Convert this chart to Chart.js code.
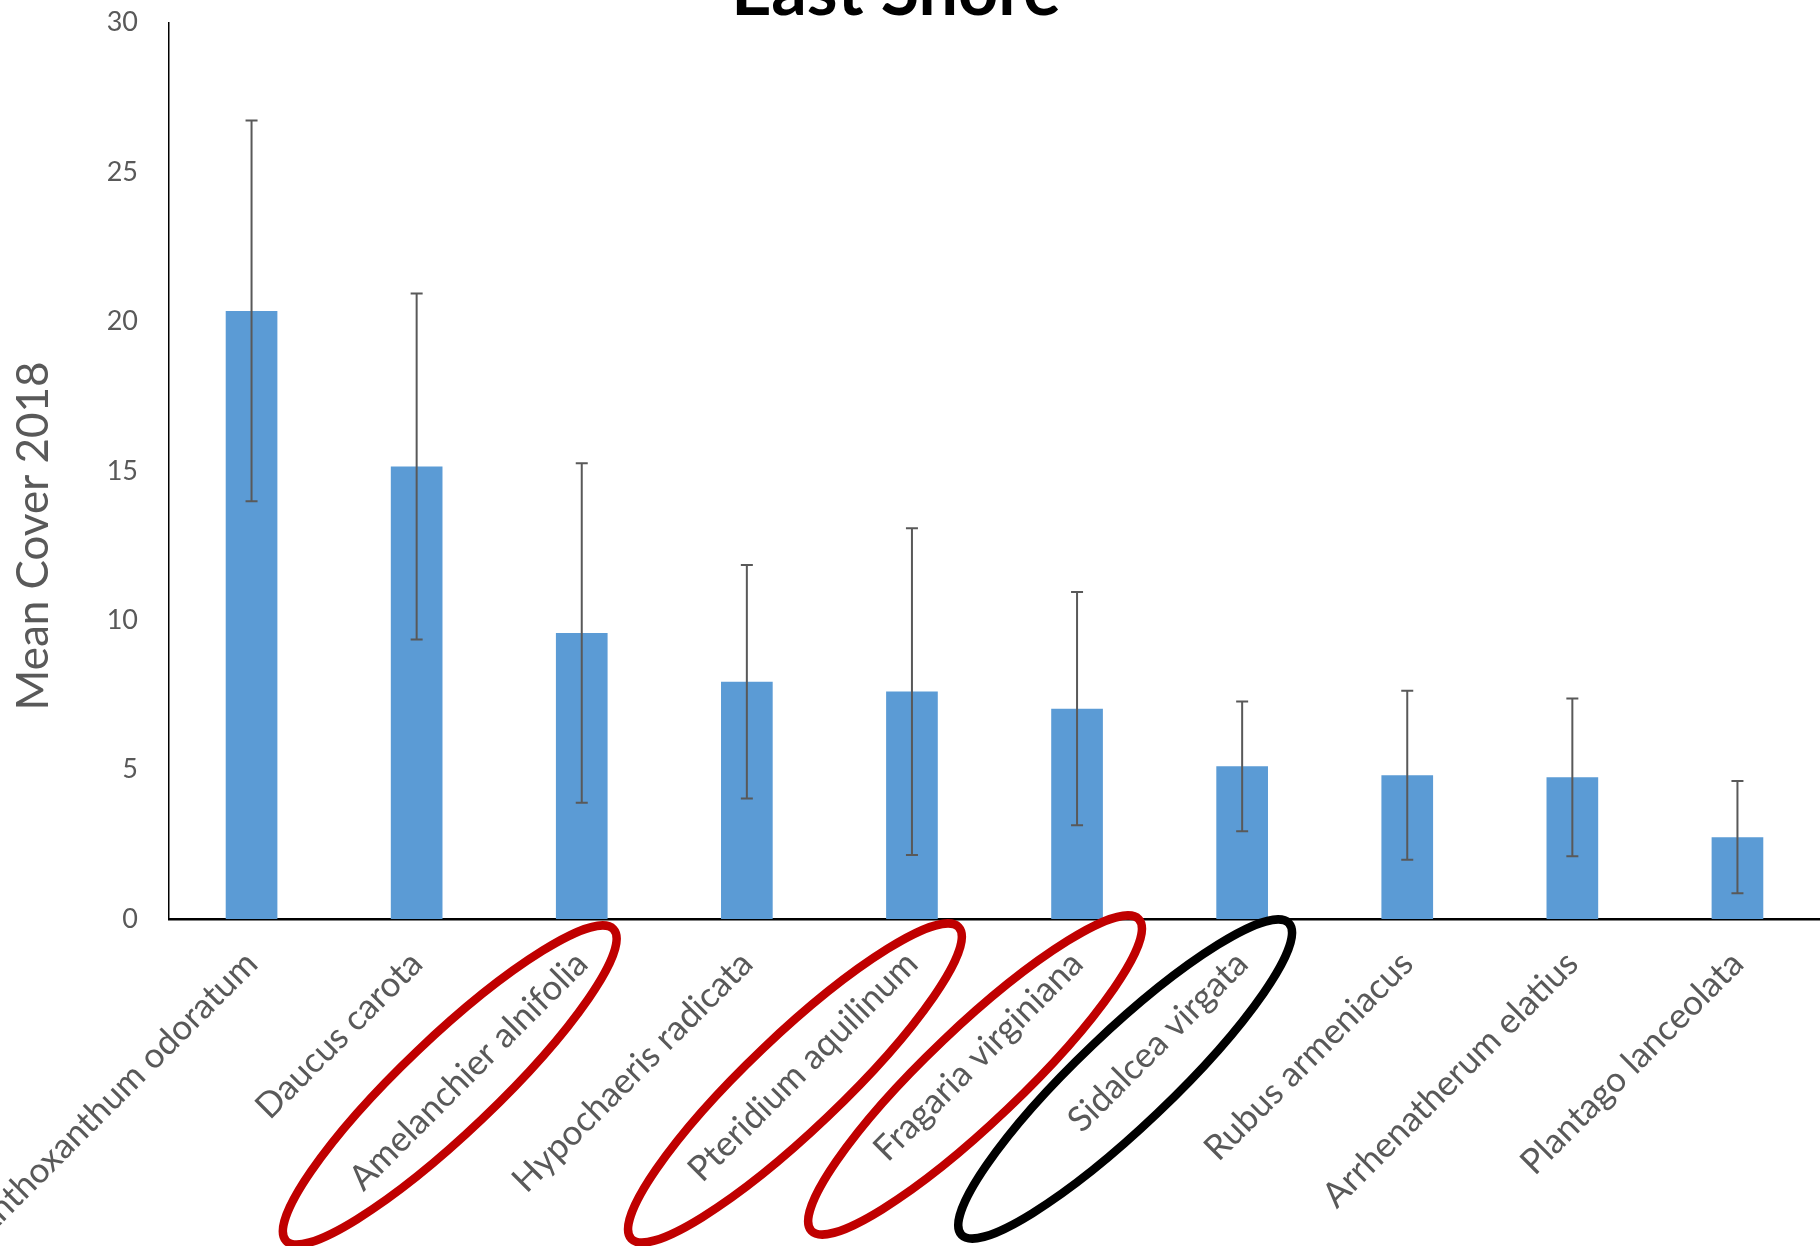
<!DOCTYPE html>
<html>
<head>
<meta charset="utf-8">
<title>East Shore</title>
<script src="https://cdn.jsdelivr.net/npm/chart.js@4.4.1/dist/chart.umd.min.js"></script>
<style>
    html, body { margin: 0; padding: 0; background: #fff; overflow: hidden; }
    body { width: 1820px; height: 1246px; position: relative; }
    /* the picture is a crop of a bigger chart: title and first label run off the edge */
    #wrap { position: absolute; left: -28px; top: -36px; width: 1848px; height: 1282px; }
</style>
</head>
<body>
<div id="wrap"><canvas id="coverChart"></canvas></div>
<script>
/* ================= DATA ================= */

const species = [
    "Anthoxanthum odoratum",
    "Daucus carota",
    "Amelanchier alnifolia",
    "Hypochaeris radicata",
    "Pteridium aquilinum",
    "Fragaria virginiana",
    "Sidalcea virgata",
    "Rubus armeniacus",
    "Arrhenatherum elatius",
    "Plantago lanceolata"
];

const meanCover = [20.35, 15.14, 9.57, 7.94, 7.61, 7.04, 5.11, 4.81, 4.74, 2.74];
const coverError = [6.37, 5.79, 5.68, 3.91, 5.47, 3.90, 2.17, 2.83, 2.64, 1.88];

const yTicks = [0, 5, 10, 15, 20, 25, 30];

const circledRed = ["Amelanchier alnifolia", "Pteridium aquilinum", "Fragaria virginiana"];
const circledBlack = ["Sidalcea virgata"];

/* ================= PLUGINS ================= */

const GREY = "#595959";

const errorBars = {
    id: "errorBars",
    afterDatasetsDraw(chart) {
        const { ctx, scales: { y } } = chart;
        const meta = chart.getDatasetMeta(0);
        ctx.save();
        ctx.strokeStyle = GREY;
        ctx.lineWidth = 2;
        meta.data.forEach((bar, i) => {
            const top = y.getPixelForValue(meanCover[i] + coverError[i]);
            const bot = y.getPixelForValue(meanCover[i] - coverError[i]);
            ctx.beginPath();
            ctx.moveTo(bar.x, top);
            ctx.lineTo(bar.x, bot);
            ctx.moveTo(bar.x - 6, top);
            ctx.lineTo(bar.x + 6, top);
            ctx.moveTo(bar.x - 6, bot);
            ctx.lineTo(bar.x + 6, bot);
            ctx.stroke();
        });
        ctx.restore();
    }
};

// y axis caption sits a little below the middle of the axis in the original
const axisCaption = {
    id: "axisCaption",
    afterDraw(chart, args, opts) {
        const { ctx } = chart;
        ctx.save();
        ctx.translate(opts.x, opts.y);
        ctx.rotate(-Math.PI / 2);
        ctx.font = opts.font;
        ctx.fillStyle = GREY;
        ctx.textAlign = "center";
        ctx.textBaseline = "middle";
        ctx.fillText(opts.text, 0, 0);
        ctx.restore();
    }
};

// hand drawn rings round some of the species names
const rings = {
    id: "rings",
    afterDraw(chart, args, opts) {
        const { ctx, chartArea, scales: { x } } = chart;
        ctx.save();
        ctx.lineWidth = opts.lineWidth;
        opts.items.forEach(r => {
            const idx = species.indexOf(r.label);
            if (idx < 0) return;
            const cx = x.getPixelForValue(idx) + r.dx;
            const cy = chartArea.bottom + r.dy;
            ctx.strokeStyle = circledBlack.includes(r.label) ? "#000000" : "#C00000";
            ctx.beginPath();
            ctx.ellipse(cx, cy, opts.rx, opts.ry, -opts.angle * Math.PI / 180, 0, Math.PI * 2);
            ctx.stroke();
        });
        ctx.restore();
    }
};

/* ================= CHART ================= */

new Chart(document.getElementById("coverChart"), {
    type: "bar",
    data: {
        labels: species,
        datasets: [{
            label: "Mean Cover 2018",
            data: meanCover,
            backgroundColor: "#5B9BD5",
            borderWidth: 0,
            categoryPercentage: 1,
            barPercentage: 0.313
        }]
    },
    options: {
        responsive: true,
        maintainAspectRatio: false,
        animation: false,
        layout: { padding: 0 },
        plugins: {
            legend: { display: false },
            tooltip: { enabled: false },
            title: {
                display: true,
                text: "East Shore",
                color: "#000",
                font: { family: "Lato", size: 70, weight: "bold", lineHeight: 0.8 },
                padding: { top: 0, bottom: 2.6 }
            },
            axisCaption: {
                text: "Mean Cover 2018",
                font: "44px Lato",
                x: 62,
                y: 572
            },
            rings: {
                lineWidth: 8.5,
                rx: 226,
                ry: 47,
                angle: 43.6,
                items: [
                    ...circledRed.map((label, k) => ({ label, dx: [-132, -117, -102][k], dy: [166, 164, 156][k] })),
                    ...circledBlack.map(label => ({ label, dx: -117, dy: 160 }))
                ]
            }
        },
        scales: {
            x: {
                grid: { display: false, drawTicks: false },
                border: { display: true, color: "#000", width: 2.5 },
                ticks: {
                    autoSkip: false,
                    maxRotation: 45,
                    minRotation: 45,
                    padding: 24,
                    color: GREY,
                    font: { family: "Lato", size: 35 }
                },
                afterFit(scale) {
                    scale.height = 327;
                    scale.paddingLeft = 0;
                    scale.paddingRight = 0;
                }
            },
            y: {
                min: 0,
                max: 30,
                afterBuildTicks(scale) {
                    scale.ticks = yTicks.map(v => ({ value: v }));
                },
                grid: { display: false, drawTicks: false },
                border: { display: true, color: "#000", width: 1.5 },
                ticks: {
                    padding: 31,
                    color: GREY,
                    font: { family: "Lato", size: 27 }
                },
                afterFit(scale) {
                    scale.width = 197;
                    scale.paddingTop = 0;
                    scale.paddingBottom = 0;
                }
            }
        }
    },
    plugins: [errorBars, axisCaption, rings]
});
</script>
</body>
</html>
